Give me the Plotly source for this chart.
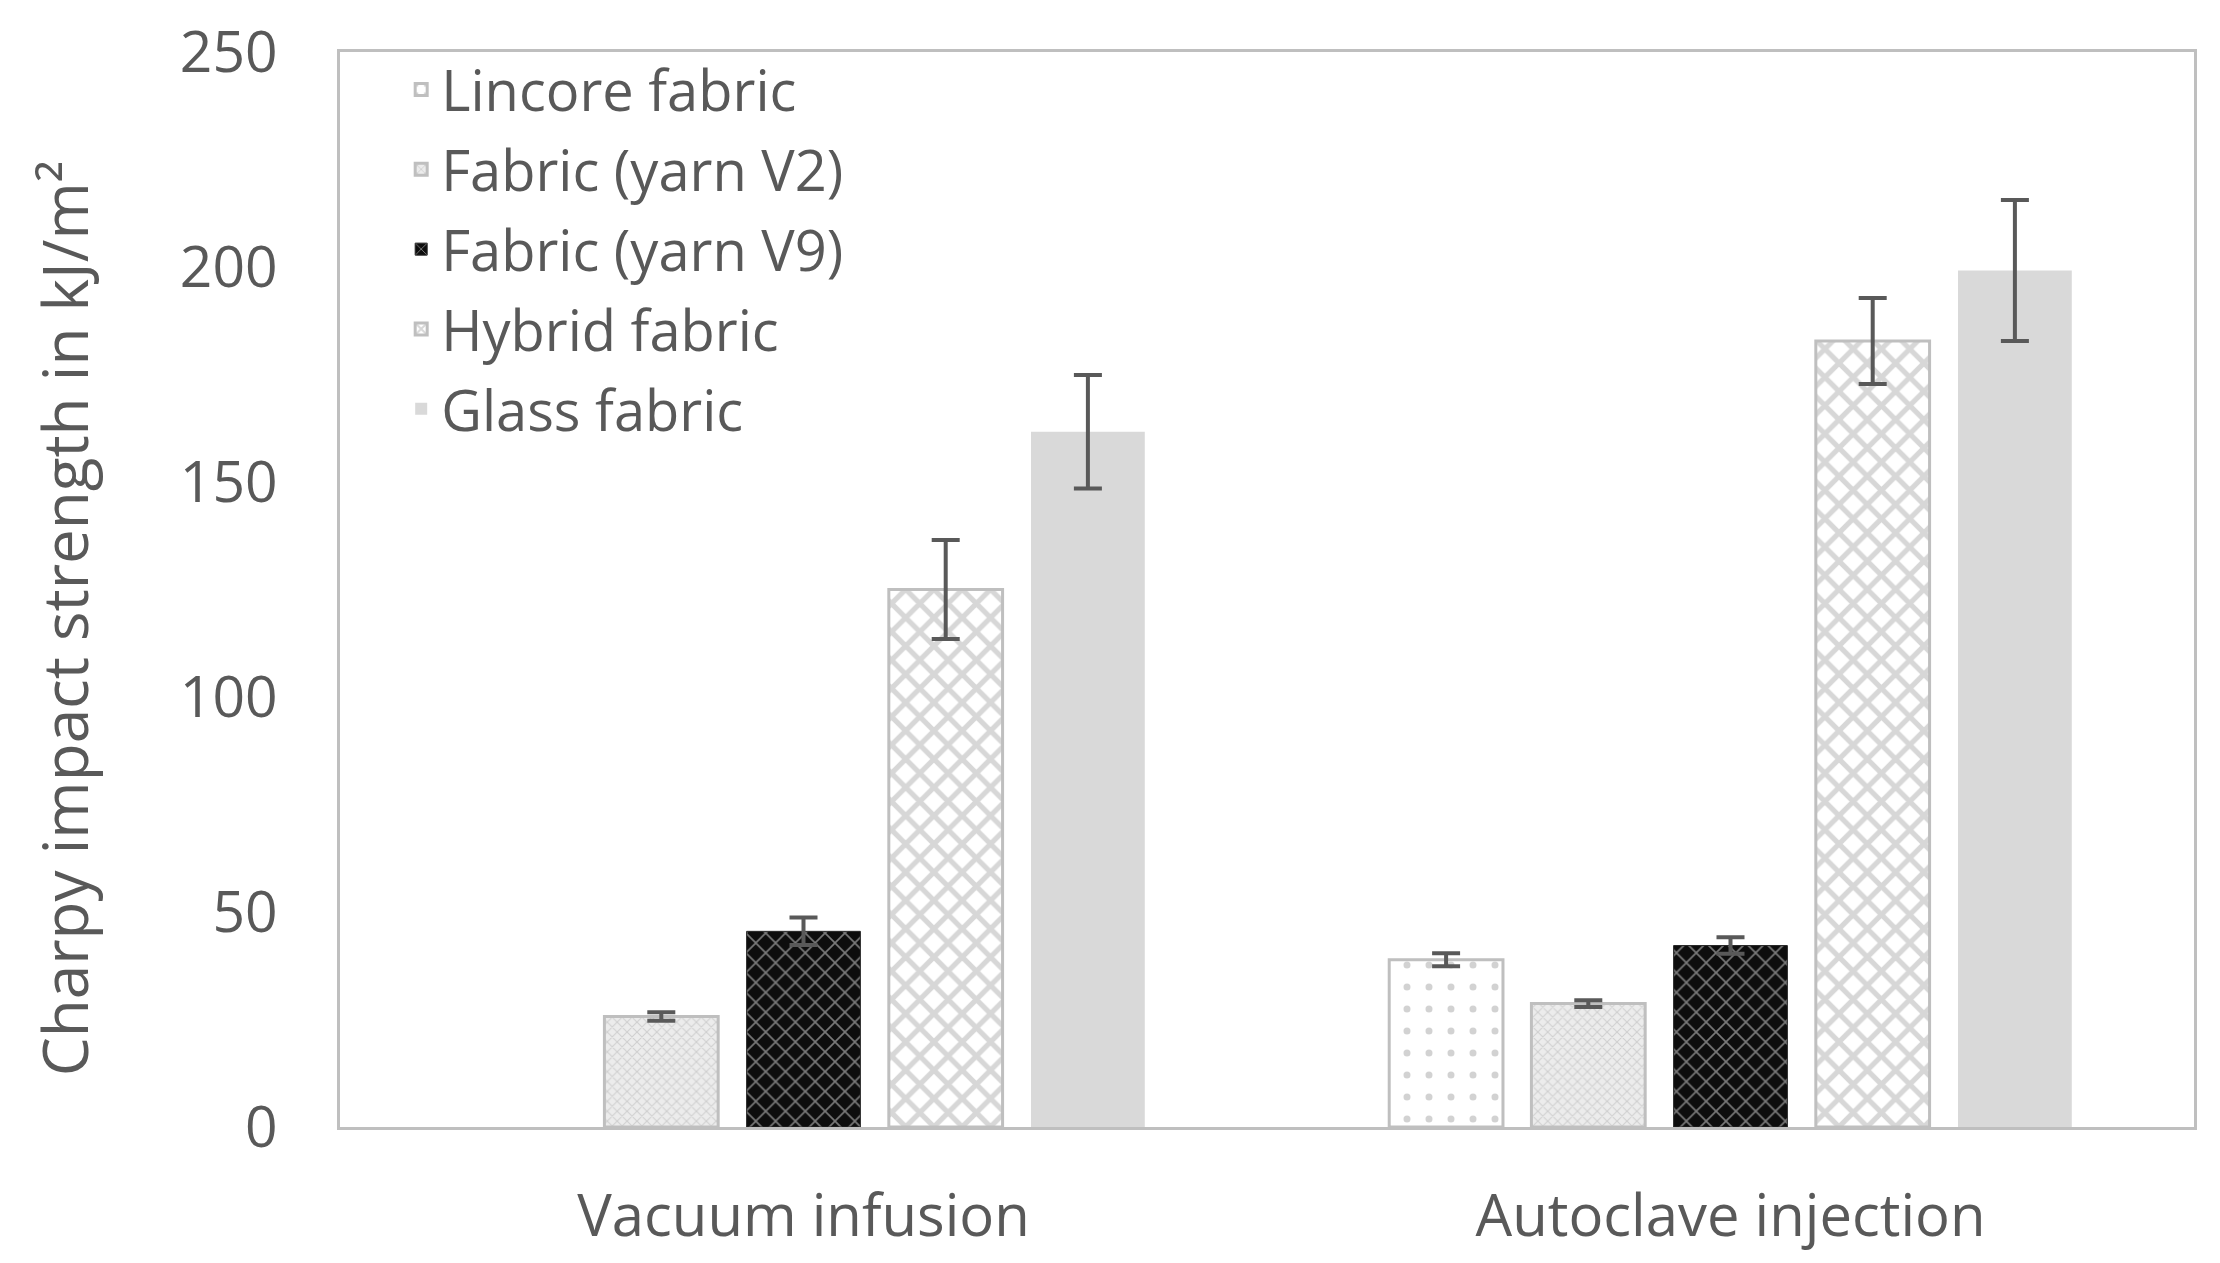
import plotly.graph_objects as go

# Data: Charpy impact strength (kJ/m^2) by manufacturing process
processes = ['Vacuum infusion', 'Autoclave injection']
lincore = [None, 38.9]
lincore_err = [0, 1.5]
yarn_v2 = [25.7, 28.7]
yarn_v2_err = [1.0, 0.8]
yarn_v9 = [45.5, 42.2]
yarn_v9_err = [3.2, 1.9]
hybrid = [125.0, 182.8]
hybrid_err = [11.5, 10.0]
glass = [161.7, 199.2]
glass_err = [13.2, 16.4]

y_ticks = [0, 50, 100, 150, 200, 250]

TXT = '#595959'
FONT = 'Open Sans'

series = [
    ('Lincore fabric', lincore, lincore_err,
     dict(color='white', line=dict(color='#bfbfbf', width=3),
          pattern=dict(shape='.', fgcolor='#a6a6a6', bgcolor='white', size=22, solidity=0.08))),
    ('Fabric (yarn V2)', yarn_v2, yarn_v2_err,
     dict(color='#e6e6e6', line=dict(color='#bfbfbf', width=3),
          pattern=dict(shape='x', fgcolor='#b3b3b3', bgcolor='#ececec', size=7, solidity=0.3))),
    ('Fabric (yarn V9)', yarn_v9, yarn_v9_err,
     dict(color='black', line=dict(color='#262626', width=1),
          pattern=dict(shape='x', fgcolor='#e6e6e6', bgcolor='#0d0d0d', size=14, solidity=0.22))),
    ('Hybrid fabric', hybrid, hybrid_err,
     dict(color='white', line=dict(color='#bfbfbf', width=3),
          pattern=dict(shape='x', fgcolor='#b0b0b0', bgcolor='white', size=20, solidity=0.45))),
    ('Glass fabric', glass, glass_err,
     dict(color='#d9d9d9', line=dict(color='#d9d9d9', width=0))),
]

fig = go.Figure()
for name, vals, errs, marker in series:
    fig.add_trace(go.Bar(
        x=processes,
        y=vals,
        name=name,
        legendgroup=name,
        marker=marker,
        error_y=dict(type='data', array=errs, visible=True,
                     color=TXT, thickness=4, width=14),
    ))

# y title as an annotation so its centre can sit a little below the plot middle
fig.add_annotation(
    text='Charpy impact strength in kJ/m²',
    xref='paper', yref='paper', x=-0.149, y=0.473,
    xanchor='center', yanchor='middle', textangle=-90, showarrow=False,
    font=dict(family=FONT, size=62, color=TXT),
)

# the page body has an 8px margin, so the figure is shrunk and shifted by that
fig.update_layout(
    width=2204,
    height=1247,
    paper_bgcolor='white',
    plot_bgcolor='white',
    font=dict(family=FONT, color=TXT, size=56),
    barmode='group',
    bargap=0.233,
    bargroupgap=0.2,
    margin=dict(l=332, r=18, t=44, b=128),
    showlegend=True,
    legend=dict(
        x=0.033, y=1.005, xanchor='left', yanchor='top',
        bgcolor='rgba(0,0,0,0)',
        font=dict(family=FONT, size=56, color=TXT),
        tracegroupgap=4,
    ),
    xaxis=dict(
        showgrid=False, zeroline=False, automargin=False,
        showline=True, linecolor='#bfbfbf', linewidth=3, mirror=True,
        tickfont=dict(size=58, color=TXT),
        ticks='', ticklabelstandoff=36,
    ),
    yaxis=dict(
        range=[0, 250], tickvals=y_ticks, automargin=False,
        showgrid=False, zeroline=False,
        showline=True, linecolor='#bfbfbf', linewidth=3, mirror=True,
        tickfont=dict(size=57, color=TXT),
        ticks='', ticklabelstandoff=48,
    ),
)

fig.write_html('out.html')
